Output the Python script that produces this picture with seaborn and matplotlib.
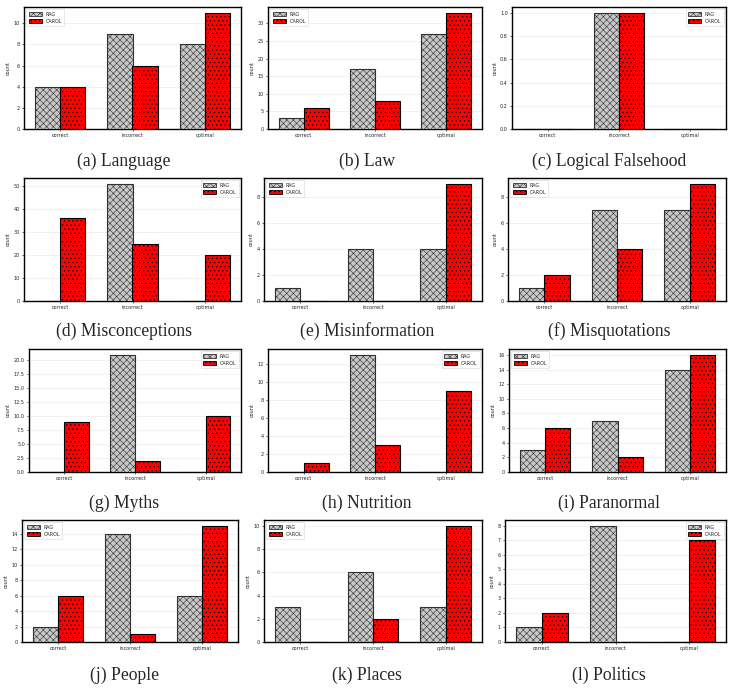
import numpy as np
import pandas as pd
import matplotlib
matplotlib.use("Agg")
import matplotlib.pyplot as plt
import seaborn as sns
from matplotlib.patches import Patch
from matplotlib.ticker import MultipleLocator

# ---------------- data ----------------
categories = ["correct", "incorrect", "optimal"]
methods = ["RAG", "CAROL"]
captions = ["(a) Language", "(b) Law", "(c) Logical Falsehood",
            "(d) Misconceptions", "(e) Misinformation", "(f) Misquotations",
            "(g) Myths", "(h) Nutrition", "(i) Paranormal",
            "(j) People", "(k) Places", "(l) Politics"]
rag_counts = [[4, 9, 8], [3, 17, 27], [0, 1, 0],
              [0, 51, 0], [1, 4, 4], [1, 7, 7],
              [0, 21, 0], [0, 13, 0], [3, 7, 14],
              [2, 14, 6], [3, 6, 3], [1, 8, 0]]
carol_counts = [[4, 6, 11], [6, 8, 33], [0, 1, 0],
                [36, 25, 20], [0, 0, 9], [2, 4, 9],
                [9, 2, 10], [1, 3, 9], [6, 2, 16],
                [6, 1, 15], [0, 2, 10], [2, 0, 7]]
tick_steps = [2, 5, 0.2, 10, 2, 2, 2.5, 2, 2, 2, 2, 1]
legend_locs = ["upper left", "upper left", "upper right",
               "upper right", "upper left", "upper left",
               "upper right", "upper right", "upper left",
               "upper left", "upper left", "upper right"]

# ---------------- style ----------------
sns.set_style("white")
plt.rcParams['font.family'] = ['DejaVu Sans']
plt.rcParams['hatch.linewidth'] = 0.4

colors = ["#c8c8c8", "#ff0000"]
edgecolors = ["#303030", "#000000"]
hatches = ["xxxxx", "...."]
small = 3.5

W, H = 733, 690
fig = plt.figure(figsize=(W / 100, H / 100), dpi=100)

boxes = [(24, 7, 241, 129), (268, 7, 482, 129), (512, 7, 726, 129),
         (24, 178, 241, 301), (264, 178, 482, 301), (508, 178, 726, 301),
         (29, 349, 241, 472), (268, 349, 482, 472), (509, 349, 726, 472),
         (22, 520, 238, 642), (264, 520, 482, 642), (505, 520, 726, 642)]
cap_x = [124, 367, 609]
cap_y = [161, 331, 503, 675]

for i in range(12):
    l, t, r, b = boxes[i]
    ax = fig.add_axes([l / W, 1 - b / H, (r - l) / W, (b - t) / H])
    df = pd.DataFrame({
        "category": categories * 2,
        "count": rag_counts[i] + carol_counts[i],
        "method": ["RAG"] * 3 + ["CAROL"] * 3,
    })
    sns.barplot(data=df, x="category", y="count", hue="method",
                hue_order=methods, palette=colors, width=0.7,
                saturation=1, legend=False, ax=ax, zorder=3)
    for cont, h, ec in zip(ax.containers, hatches, edgecolors):
        for p in cont:
            p.set_hatch(h)
            p.set_edgecolor(ec)
            p.set_linewidth(0.8)
    ax.yaxis.set_major_locator(MultipleLocator(tick_steps[i]))
    ax.grid(axis="y", color="#ececec", linewidth=0.5, zorder=0)
    ax.set_axisbelow(True)
    ax.set_xlabel("")
    ax.set_ylabel("count", fontsize=small, labelpad=2)
    ax.tick_params(axis="both", labelsize=small, length=1.5, width=0.5,
                   pad=1.5, left=True, bottom=True)
    for s in ax.spines.values():
        s.set_color("black")
        s.set_linewidth(1.0)
    handles = [Patch(facecolor=colors[k], edgecolor=edgecolors[k],
                     hatch=hatches[k], linewidth=0.6, label=methods[k])
               for k in range(2)]
    leg = ax.legend(handles=handles, loc=legend_locs[i], fontsize=small,
                    handlelength=2.6, handleheight=0.9, borderpad=0.5,
                    labelspacing=0.4, handletextpad=0.8, frameon=True,
                    fancybox=False)
    leg.get_frame().set_linewidth(0.4)
    leg.get_frame().set_edgecolor("#cccccc")
    fig.text(cap_x[i % 3] / W, 1 - cap_y[i // 3] / H, captions[i],
             ha="center", va="center", family="Liberation Serif",
             fontsize=12.7)

fig.savefig("out.png", dpi=100)
